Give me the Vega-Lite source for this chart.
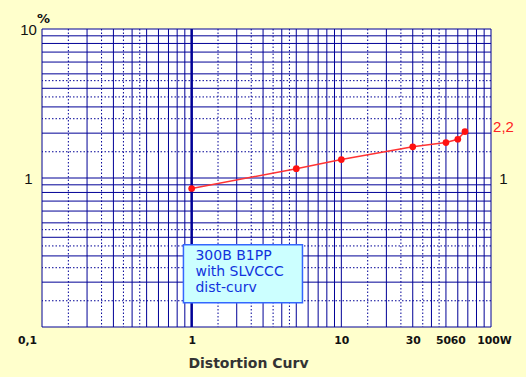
{
  "$schema": "https://vega.github.io/schema/vega-lite/v6.json",
  "width": 449,
  "height": 298,
  "autosize": {"type": "none"},
  "padding": {"left": 42, "top": 29, "right": 35, "bottom": 50},
  "background": "#FFFFCC",
  "config": {"view": {"fill": "white", "stroke": null}},
  "datasets": {
    "grid": [
      {"v": 0.1}, {"v": 0.2}, {"v": 0.3}, {"v": 0.4}, {"v": 0.5}, {"v": 0.6}, {"v": 0.7}, {"v": 0.8}, {"v": 0.9},
      {"v": 1}, {"v": 2}, {"v": 3}, {"v": 4}, {"v": 5}, {"v": 6}, {"v": 7}, {"v": 8}, {"v": 9},
      {"v": 10}, {"v": 20}, {"v": 30}, {"v": 40}, {"v": 50}, {"v": 60}, {"v": 70}, {"v": 80}, {"v": 90},
      {"v": 100}
    ],
    "gridDot": [
      {"v": 0.15}, {"v": 0.25}, {"v": 0.35}, {"v": 0.45},
      {"v": 1.5}, {"v": 2.5}, {"v": 3.5}, {"v": 4.5},
      {"v": 15}, {"v": 25}, {"v": 35}, {"v": 45}
    ],
    "pts": [
      {"w": 1, "d": 0.85},
      {"w": 5, "d": 1.155},
      {"w": 10, "d": 1.33},
      {"w": 30, "d": 1.62},
      {"w": 50, "d": 1.73},
      {"w": 60, "d": 1.82},
      {"w": 67, "d": 2.05}
    ],
    "box": [{"x1": 0.881, "x2": 5.5, "y1": 0.357, "y2": 0.1455}],
    "note": [{"x": 1.06, "y": 0.335, "t": "300B B1PP\nwith SLVCCC\ndist-curv"}]
  },
  "resolve": {"axis": {"x": "independent", "y": "independent"}},
  "layer": [
    {
      "data": {"name": "grid"},
      "mark": {"type": "rule", "color": "#000096", "strokeWidth": 1},
      "encoding": {
        "x": {"field": "v", "type": "quantitative", "scale": {"type": "log", "domain": [0.1, 100], "nice": false}, "axis": null}
      }
    },
    {
      "data": {"name": "grid"},
      "transform": [{"filter": "datum.v <= 10"}],
      "mark": {"type": "rule", "color": "#000096", "strokeWidth": 1},
      "encoding": {
        "y": {"field": "v", "type": "quantitative", "scale": {"type": "log", "domain": [0.1, 10], "nice": false}, "axis": null}
      }
    },
    {
      "data": {"name": "gridDot"},
      "mark": {"type": "rule", "color": "#000096", "strokeWidth": 1, "strokeDash": [1.5, 2]},
      "encoding": {
        "x": {"field": "v", "type": "quantitative", "scale": {"type": "log", "domain": [0.1, 100], "nice": false}, "axis": null}
      }
    },
    {
      "data": {"name": "gridDot"},
      "transform": [{"filter": "datum.v <= 10"}],
      "mark": {"type": "rule", "color": "#000096", "strokeWidth": 1, "strokeDash": [1.5, 2]},
      "encoding": {
        "y": {"field": "v", "type": "quantitative", "scale": {"type": "log", "domain": [0.1, 10], "nice": false}, "axis": null}
      }
    },
    {
      "data": {"name": "grid"},
      "transform": [{"filter": "datum.v == 1"}],
      "mark": {"type": "rule", "color": "#000096", "strokeWidth": 2.5},
      "encoding": {
        "x": {"field": "v", "type": "quantitative", "scale": {"type": "log", "domain": [0.1, 100], "nice": false}, "axis": null}
      }
    },
    {
      "data": {"name": "box"},
      "mark": {"type": "rect", "fill": "#CCFFFF", "stroke": "#3366FF", "strokeWidth": 1.5},
      "encoding": {
        "x": {"field": "x1", "type": "quantitative", "scale": {"type": "log", "domain": [0.1, 100], "nice": false}, "axis": null},
        "x2": {"field": "x2"},
        "y": {"field": "y1", "type": "quantitative", "scale": {"type": "log", "domain": [0.1, 10], "nice": false}, "axis": null},
        "y2": {"field": "y2"}
      }
    },
    {
      "data": {"name": "note"},
      "mark": {"type": "text", "align": "left", "baseline": "top", "lineBreak": "\n", "lineHeight": 16, "font": "DejaVu Sans", "fontSize": 14, "color": "#1133DD"},
      "encoding": {
        "x": {"field": "x", "type": "quantitative", "scale": {"type": "log", "domain": [0.1, 100], "nice": false}, "axis": null},
        "y": {"field": "y", "type": "quantitative", "scale": {"type": "log", "domain": [0.1, 10], "nice": false},
          "axis": {"orient": "left", "values": [1, 10], "labelExpr": "datum.value > 5 ? '10' : '1'", "labelFont": "Liberation Sans", "labelFontSize": 15, "labelColor": "#111111", "labelAlign": "center", "labelBaseline": "middle", "labelPadding": 14, "ticks": false, "domain": false, "grid": false,
            "title": "%", "titleAngle": 0, "titleX": 1, "titleY": -11, "titleAlign": "center", "titleBaseline": "middle", "titleFont": "DejaVu Sans", "titleFontSize": 13, "titleFontWeight": "bold", "titleColor": "#111111"}},
        "text": {"field": "t"}
      }
    },
    {
      "data": {"name": "pts"},
      "mark": {"type": "line", "color": "#FF3333", "strokeWidth": 1.5, "point": {"filled": true, "size": 45, "color": "#FF1111"}},
      "encoding": {
        "x": {"field": "w", "type": "quantitative", "scale": {"type": "log", "domain": [0.1, 100], "nice": false},
          "axis": {"orient": "bottom", "values": [0.1, 1, 10, 30, 50, 60, 100], "labelExpr": "datum.value < 0.5 ? '0,1' : datum.value > 90 ? '100W' : format(datum.value, 'd')", "labelFont": "DejaVu Sans", "labelFontWeight": "bold", "labelFontSize": 10.8, "labelColor": "#111111", "labelPadding": 7, "labelOverlap": false, "labelFlush": false, "labelBound": false, "ticks": false, "domain": false, "grid": false,
            "labelOffset": {"condition": [{"test": "datum.value < 0.5", "value": -15}, {"test": "datum.value == 50", "value": -3}, {"test": "datum.value > 90", "value": 3}], "value": 0},
            "title": "Distortion  Curv", "titleX": 206, "titleY": 36, "titleAlign": "center", "titleBaseline": "middle", "titleFont": "DejaVu Sans", "titleFontSize": 14, "titleFontWeight": "bold", "titleColor": "#333333"}},
        "y": {"field": "d", "type": "quantitative", "scale": {"type": "log", "domain": [0.1, 10], "nice": false},
          "axis": {"orient": "right", "values": [1, 2.2], "labelExpr": "datum.value > 2 ? '2,2' : '1'", "labelFont": "Liberation Sans", "labelFontSize": 15, "labelColor": {"condition": {"test": "datum.value > 2", "value": "#FF2222"}, "value": "#111111"}, "labelAlign": "center", "labelBaseline": "middle", "labelPadding": 12, "ticks": false, "domain": false, "grid": false, "title": null}}
      }
    }
  ]
}
